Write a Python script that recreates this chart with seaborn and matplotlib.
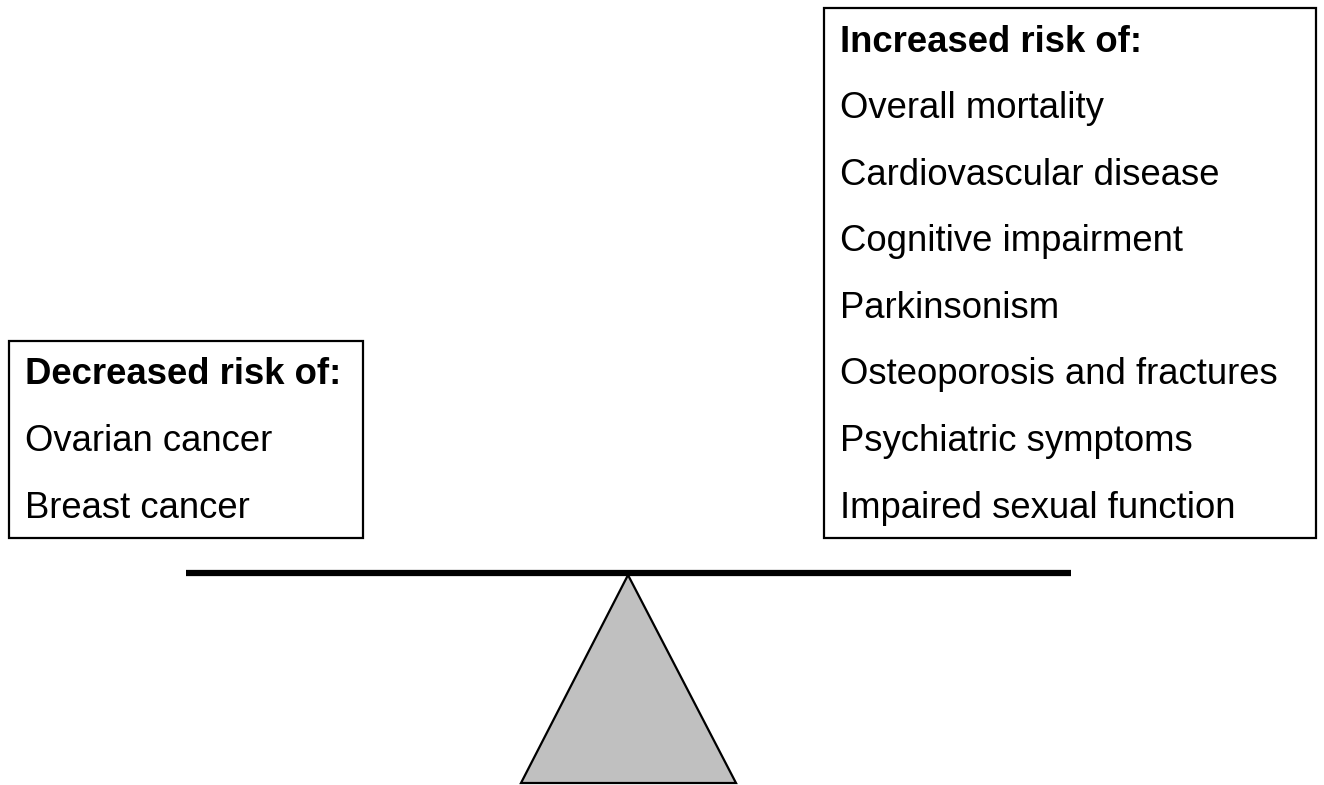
import matplotlib
matplotlib.use("Agg")
import matplotlib.pyplot as plt
import seaborn as sns
from matplotlib.patches import Rectangle, Polygon

# 文本内容
left_title = "Decreased risk of:"
left_items = ["Ovarian cancer", "Breast cancer"]
right_title = "Increased risk of:"
right_items = ["Overall mortality", "Cardiovascular disease", "Cognitive impairment",
               "Parkinsonism", "Osteoporosis and fractures", "Psychiatric symptoms",
               "Impaired sexual function"]

# 天平的几何形状 (像素坐标)
beam_x = [186, 1071]
beam_y = [573, 573]
fulcrum_x = [628, 521, 736]
fulcrum_y = [575, 783, 783]

sns.set_theme(style="white")
plt.rcParams['font.family'] = ['Liberation Sans', 'DejaVu Sans']
plt.rcParams['text.color'] = 'black'

fig = plt.figure(figsize=(13.24, 7.85), dpi=100)
ax = fig.add_axes([0, 0, 1, 1])
ax.set_xlim(0, 1324)
ax.set_ylim(785, 0)
ax.axis('off')

# 横梁
sns.lineplot(x=beam_x, y=beam_y, ax=ax, color='black', linewidth=4.5,
             solid_capstyle='butt', sort=False)

# 支点三角形
ax.add_patch(Polygon(list(zip(fulcrum_x, fulcrum_y)), closed=True,
                     facecolor='#c0c0c0', edgecolor='black', linewidth=1.6))

# 左右两个框
ax.add_patch(Rectangle((9, 341), 354, 197, fill=False, edgecolor='black', linewidth=1.6))
ax.add_patch(Rectangle((824, 8), 492, 530, fill=False, edgecolor='black', linewidth=1.6))

fs = 26.3
step = 66.6


def draw_list(x, y0, title, items):
    ax.text(x, y0, title, fontsize=fs, fontweight='bold', ha='left', va='center',
            color='black')
    for i, s in enumerate(items):
        ax.text(x, y0 + step * (i + 1), s, fontsize=fs, ha='left', va='center',
                color='black')


draw_list(25, 375, left_title, left_items)
draw_list(840, 42, right_title, right_items)

fig.savefig('out.png', dpi=100)
